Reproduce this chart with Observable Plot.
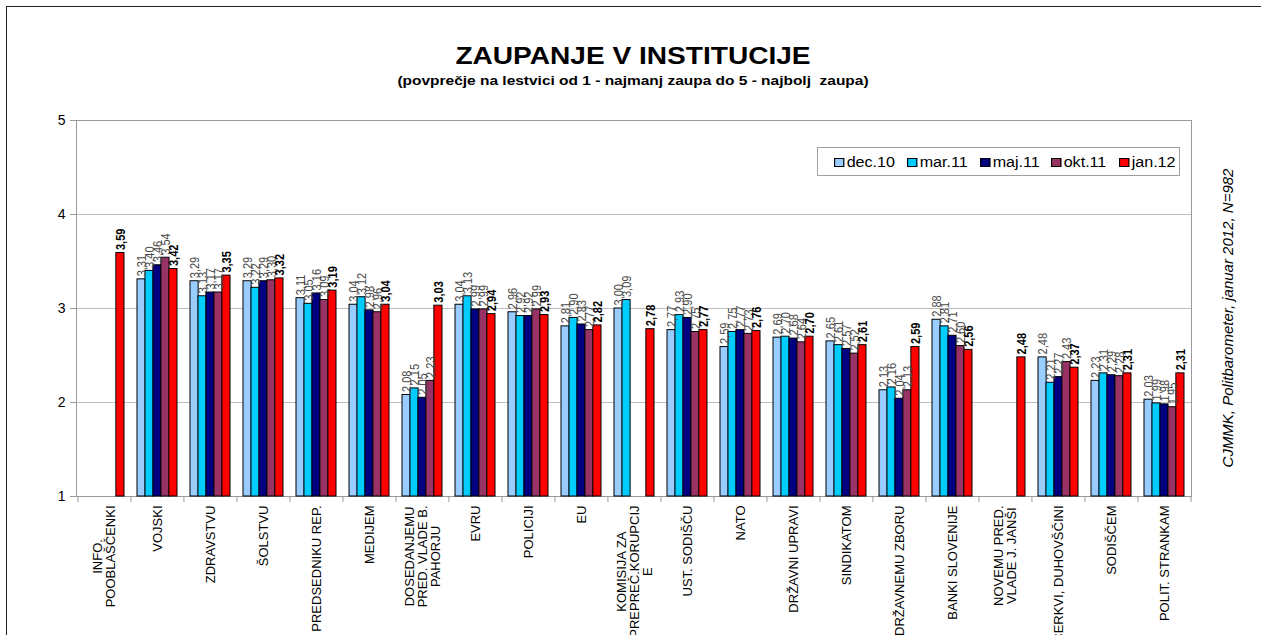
<!DOCTYPE html>
<html>
<head>
<meta charset="utf-8">
<script src="https://cdn.jsdelivr.net/npm/d3@7"></script>
<script src="https://cdn.jsdelivr.net/npm/@observablehq/plot@0.6"></script>
<style>
  body { margin: 0; background: #fff; font-family: "Liberation Sans", Arial, sans-serif; }
  #wrap { position: relative; width: 1261px; height: 635px; overflow: hidden; }
  #border { position: absolute; left: 6px; top: 6px; width: 1400px; height: 800px; border: 1px solid #222; box-sizing: border-box; }
  #chart { position: absolute; left: 0; top: 0; }
  .title { position: absolute; left: 633px; white-space: nowrap; font-weight: bold; color: #000; transform-origin: center; }
  #t1 { top: 42px; font-size: 24px; transform: translateX(-50%) scaleX(1.17); }
  #t2 { top: 73px; font-size: 13px; transform: translateX(-50%) scaleX(1.19); }
  #legend { position: absolute; left: 817px; top: 147px; width: 363px; height: 29px; border: 1px solid #a0a0a0; background: #fff; box-sizing: border-box; }
  .li { position: absolute; top: 6px; font-size: 14px; white-space: nowrap; transform-origin: left center; transform: scaleX(1.15); line-height: 16px; }
  .sw { display: inline-block; width: 7px; height: 7px; border: 1px solid #000; margin-right: 2px; vertical-align: 0px; }
  #caption { position: absolute; left: 1227px; top: 318px; transform: translate(-50%,-50%) rotate(-90deg); font-style: italic; font-size: 15px; white-space: nowrap; }
</style>
</head>
<body>
<div id="wrap">
  <div id="border"></div>
  <div id="chart"></div>
  <div class="title" id="t1">ZAUPANJE V INSTITUCIJE</div>
  <div class="title" id="t2">(povprečje na lestvici od 1 - najmanj zaupa do 5 - najbolj&nbsp; zaupa)</div>
  <div id="legend"></div>
  <div id="caption">CJMMK, Politbarometer, januar 2012, N=982</div>
</div>
<script>
const categories = [
  "INFO.\nPOOBLAŠČENKI",
  "VOJSKI",
  "ZDRAVSTVU",
  "ŠOLSTVU",
  "PREDSEDNIKU REP.",
  "MEDIJEM",
  "DOSEDANJEMU\nPRED. VLADE B.\nPAHORJU",
  "EVRU",
  "POLICIJI",
  "EU",
  "KOMISIJA ZA\nPREPREČ.KORUPCIJ\nE",
  "UST. SODIŠČU",
  "NATO",
  "DRŽAVNI UPRAVI",
  "SINDIKATOM",
  "DRŽAVNEMU ZBORU",
  "BANKI SLOVENIJE",
  "NOVEMU PRED.\nVLADE J. JANŠI",
  "CERKVI, DUHOVŠČINI",
  "SODIŠČEM",
  "POLIT. STRANKAM"
];
const seriesNames = ["dec.10", "mar.11", "maj.11", "okt.11", "jan.12"];
const seriesColors = ["#99CCFF", "#00CCFF", "#000080", "#993366", "#FF0000"];
const dec10 = [null, 3.31, 3.29, 3.29, 3.11, 3.04, 2.08, 3.04, 2.96, 2.81, 3.00, 2.77, 2.59, 2.69, 2.65, 2.13, 2.88, null, 2.48, 2.23, 2.03];
const mar11 = [null, 3.40, 3.13, 3.22, 3.05, 3.12, 2.15, 3.13, 2.92, 2.90, 3.09, 2.93, 2.75, 2.70, 2.61, 2.16, 2.81, null, 2.21, 2.31, 1.99];
const maj11 = [null, 3.46, 3.17, 3.29, 3.16, 2.98, 2.05, 2.99, 2.92, 2.83, null, 2.90, 2.77, 2.68, 2.57, 2.04, 2.71, null, 2.27, 2.29, 1.98];
const okt11 = [null, 3.54, 3.17, 3.30, 3.09, 2.96, 2.23, 2.99, 2.99, 2.77, null, 2.75, 2.73, 2.64, 2.52, 2.13, 2.60, null, 2.43, 2.28, 1.95];
const jan12 = [3.59, 3.42, 3.35, 3.32, 3.19, 3.04, 3.03, 2.94, 2.93, 2.82, 2.78, 2.77, 2.76, 2.70, 2.61, 2.59, 2.56, 2.48, 2.37, 2.31, 2.31];
const yTicks = [1, 2, 3, 4, 5];

const seriesValues = [dec10, mar11, maj11, okt11, jan12];

const W = 1261, H = 635, mL = 76, mR = 70, mT = 120, mB = 139;
const plotW = W - mL - mR, plotH = H - mT - mB;
const pInner = 0.25, pOuter = 0.125;
const step = plotW / (categories.length - pInner + 2 * pOuter);
const bandW = step * (1 - pInner);
const slot = bandW / seriesNames.length;

const fmt = v => v.toFixed(2).replace(".", ",");

// measure label widths for centered multi-line rotated labels
const ctx = document.createElement("canvas").getContext("2d");
const catFont = 13;
ctx.font = `${catFont}px "Liberation Sans"`;
const maxLineW = c => d3.max(c.split("\n"), s => ctx.measureText(s).width);

const marks = [
  Plot.gridY([2, 3, 4], {stroke: "#bdbdbd", strokeOpacity: 1}),
  Plot.frame({stroke: "#9a9a9a"}),
  Plot.axisY({ticks: yTicks, label: null, tickSize: 6, tickPadding: 5, stroke: "#9a9a9a", fill: "#000", fontSize: 14, tickFormat: d => String(d)}),
  Plot.ruleX(categories, {x: d => d, dx: -step / 2, insetTop: plotH, insetBottom: -6, stroke: "#9a9a9a"}),
  Plot.ruleX(categories.slice(-1), {x: d => d, dx: step / 2, insetTop: plotH, insetBottom: -6, stroke: "#9a9a9a"})
];

seriesNames.forEach((name, i) => {
  const rows = categories.map((c, j) => ({cat: c, value: seriesValues[i][j]})).filter(d => d.value != null);
  marks.push(Plot.barY(rows, {
    x: "cat", y1: 1, y2: "value",
    fill: seriesColors[i], stroke: "#000", strokeWidth: 1,
    insetLeft: i * slot, insetRight: (seriesNames.length - 1 - i) * slot
  }));
});
seriesNames.forEach((name, i) => {
  const rows = categories.map((c, j) => ({cat: c, value: seriesValues[i][j]})).filter(d => d.value != null);
  const last = i === seriesNames.length - 1;
  marks.push(Plot.text(rows, {
    x: "cat", y: "value", text: d => fmt(d.value),
    dx: (i - (seriesNames.length - 1) / 2) * slot, dy: -3,
    rotate: -90, textAnchor: "start",
    fontSize: 13, fontWeight: last ? "bold" : "normal",
    fill: last ? "#000" : "#4a4a4a",
    className: "vlab"
  }));
});
categories.forEach(c => {
  marks.push(Plot.text([c], {
    x: d => d, text: d => d, frameAnchor: "bottom",
    rotate: -90, textAnchor: "middle", lineAnchor: "middle", lineHeight: 1.0,
    dy: 9 + maxLineW(c) / 2, fontSize: catFont, fill: "#000"
  }));
});

const chart = Plot.plot({
  width: W, height: H,
  marginLeft: mL, marginRight: mR, marginTop: mT, marginBottom: mB,
  style: {fontFamily: "'Liberation Sans', Arial, sans-serif", background: "transparent", overflow: "visible"},
  x: {domain: categories, paddingInner: pInner, paddingOuter: pOuter, axis: null},
  y: {domain: [1, 5], label: null},
  marks
});
document.getElementById("chart").appendChild(chart);

// compress value-label length (source chart is non-uniformly scaled)
d3.select(chart).selectAll(".vlab text").each(function() {
  const t = this.getAttribute("transform") || "";
  this.setAttribute("transform", t + " scale(0.85,1)");
});

// legend
const legend = document.getElementById("legend");
const legendX = [16, 89, 162, 233, 301];
seriesNames.forEach((name, i) => {
  const el = document.createElement("div");
  el.className = "li";
  el.style.left = legendX[i] + "px";
  el.innerHTML = `<span class="sw" style="background:${seriesColors[i]}"></span>${name}`;
  legend.appendChild(el);
});
</script>
</body>
</html>
